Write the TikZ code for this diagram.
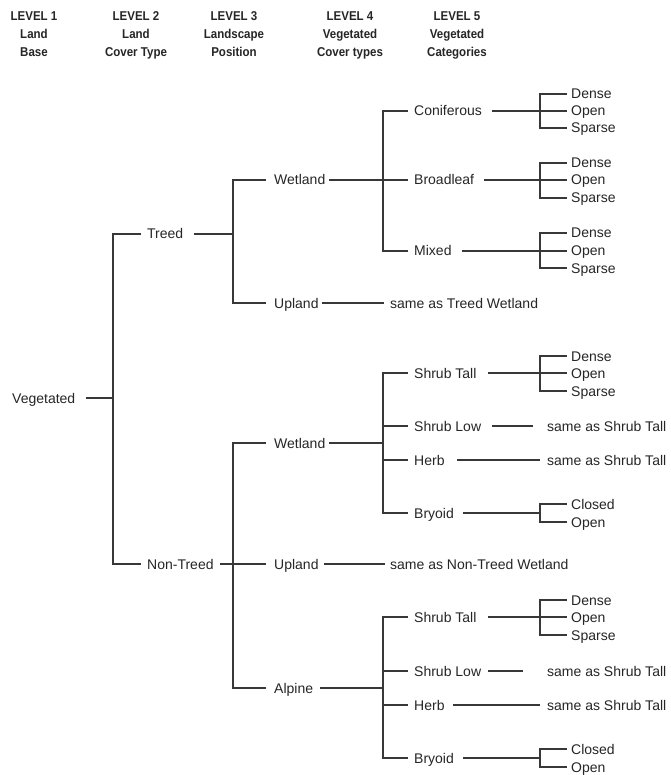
\documentclass[tikz,border=0pt]{standalone}
\usepackage{fontspec}
\setmainfont{Liberation Sans}
\newfontfamily\hdrfont[FakeStretch=0.9]{Liberation Sans}
\definecolor{txt}{HTML}{262626}
\definecolor{ln}{HTML}{383838}
\begin{document}
\begin{tikzpicture}[x=1pt,y=-1pt,
  lbl/.style={anchor=west,inner sep=0pt,text height=10pt,text depth=0pt,font=\fontsize{14}{16}\selectfont,text=txt},
  hdr/.style={anchor=north,inner sep=0pt,align=center,text=txt,font=\hdrfont\bfseries\fontsize{12.8}{17.8}\selectfont},
  conn/.style={draw=ln,line width=1.4pt,line cap=rect,line join=miter}]
\useasboundingbox[fill=white] (0,0) rectangle (670,775);
% headers
\node[hdr] (h1) at (34,11.5) {LEVEL 1\\Land\\Base};
\node[hdr] (h2) at (136,11.5) {LEVEL 2\\Land\\Cover Type};
\node[hdr] (h3) at (234,11.5) {LEVEL 3\\Landscape\\Position};
\node[hdr] (h4) at (350,11.5) {LEVEL 4\\Vegetated\\Cover types};
\node[hdr] (h5) at (457,11.5) {LEVEL 5\\Vegetated\\Categories};
% level 1-2
\node[lbl] (veg) at (12,398) {Vegetated};
\node[lbl] (treed) at (147,234) {Treed};
\node[lbl] (ntreed) at (147,564) {Non-Treed};
\coordinate (j1) at (113,398);
\draw[conn] ([xshift=11pt]veg.east) -- (j1);
\draw[conn] ([xshift=-7pt]treed.west) -| (j1) |- ([xshift=-7pt]ntreed.west);
% treed
\node[lbl] (twet) at (274,180) {Wetland};
\node[lbl] (tup) at (274,303) {Upland};
\coordinate (j2) at (233,234);
\draw[conn] ([xshift=11pt]treed.east) -- (j2);
\draw[conn] ([xshift=-9pt]twet.west) -| (j2) |- ([xshift=-9pt]tup.west);
\node[lbl] (tups) at (390,303) {same as Treed Wetland};
\draw[conn] ([xshift=4pt]tup.east) -- ([xshift=-7pt]tups.west);
% treed wetland
\node[lbl] (conif) at (414,111) {Coniferous};
\node[lbl] (broad) at (414,180) {Broadleaf};
\node[lbl] (mixed) at (414,251) {Mixed};
\coordinate (j3) at (383,180);
\draw[conn] ([xshift=4pt]twet.east) -- (j3);
\draw[conn] ([xshift=-7pt]conif.west) -| (j3) |- ([xshift=-7pt]mixed.west);
\draw[conn] (j3) -- ([xshift=-7pt]broad.west);
% leaves coniferous
\node[lbl] (cd) at (571,94) {Dense};
\node[lbl] (co) at (571,111) {Open};
\node[lbl] (cs) at (571,128) {Sparse};
\coordinate (j4) at (540,111);
\draw[conn] ([xshift=11pt]conif.east) -- ([xshift=-5pt]co.west);
\draw[conn] ([xshift=-5pt]cd.west) -| (j4) |- ([xshift=-5pt]cs.west);
% leaves broadleaf
\node[lbl] (bd) at (571,163) {Dense};
\node[lbl] (bo) at (571,180) {Open};
\node[lbl] (bs) at (571,198) {Sparse};
\coordinate (j5) at (540,180);
\draw[conn] ([xshift=10pt]broad.east) -- ([xshift=-5pt]bo.west);
\draw[conn] ([xshift=-5pt]bd.west) -| (j5) |- ([xshift=-5pt]bs.west);
% leaves mixed
\node[lbl] (md) at (571,233) {Dense};
\node[lbl] (mo) at (571,251) {Open};
\node[lbl] (ms) at (571,268) {Sparse};
\coordinate (j6) at (540,251);
\draw[conn] ([xshift=11pt]mixed.east) -- ([xshift=-5pt]mo.west);
\draw[conn] ([xshift=-5pt]md.west) -| (j6) |- ([xshift=-5pt]ms.west);
% non-treed
\node[lbl] (nwet) at (274,443) {Wetland};
\node[lbl] (nup) at (274,564) {Upland};
\node[lbl] (alp) at (274,688) {Alpine};
\coordinate (j7) at (233,564);
\draw[conn] ([xshift=7pt]ntreed.east) -- ([xshift=-9pt]nup.west);
\draw[conn] ([xshift=-9pt]nwet.west) -| (j7) |- ([xshift=-9pt]alp.west);
\node[lbl] (nups) at (390,564) {same as Non-Treed Wetland};
\draw[conn] ([xshift=6pt]nup.east) -- ([xshift=-6pt]nups.west);
% non-treed wetland
\node[lbl] (nst) at (414,373) {Shrub Tall};
\node[lbl] (nsl) at (414,426) {Shrub Low};
\node[lbl] (nhb) at (414,460) {Herb};
\node[lbl] (nbr) at (414,513) {Bryoid};
\coordinate (j8) at (383,443);
\draw[conn] ([xshift=4pt]nwet.east) -- (j8);
\draw[conn] ([xshift=-7pt]nst.west) -| (j8) |- ([xshift=-7pt]nbr.west);
\draw[conn] ([xshift=-7pt]nsl.west) -- (nsl.west -| j8);
\draw[conn] ([xshift=-7pt]nhb.west) -- (nhb.west -| j8);
\node[lbl] (nstd) at (571,356) {Dense};
\node[lbl] (nsto) at (571,373) {Open};
\node[lbl] (nsts) at (571,391) {Sparse};
\coordinate (j9) at (540,373);
\draw[conn] ([xshift=12pt]nst.east) -- ([xshift=-5pt]nsto.west);
\draw[conn] ([xshift=-5pt]nstd.west) -| (j9) |- ([xshift=-5pt]nsts.west);
\node[lbl] (nsls) at (547,426) {same as Shrub Tall};
\draw[conn] ([xshift=11pt]nsl.east) -- ([xshift=-15pt]nsls.west);
\node[lbl] (nhbs) at (547,460) {same as Shrub Tall};
\draw[conn] ([xshift=13pt]nhb.east) -- ([xshift=-8pt]nhbs.west);
\node[lbl] (nbrc) at (571,504) {Closed};
\node[lbl] (nbro) at (571,522) {Open};
\coordinate (j10) at (540,513);
\draw[conn] ([xshift=10pt]nbr.east) -- (j10);
\draw[conn] ([xshift=-5pt]nbrc.west) -| (j10) |- ([xshift=-5pt]nbro.west);
% alpine
\node[lbl] (ast) at (414,617) {Shrub Tall};
\node[lbl] (asl) at (414,671) {Shrub Low};
\node[lbl] (ahb) at (414,705) {Herb};
\node[lbl] (abr) at (414,758) {Bryoid};
\coordinate (j11) at (383,688);
\draw[conn] ([xshift=7pt]alp.east) -- (j11);
\draw[conn] ([xshift=-7pt]ast.west) -| (j11) |- ([xshift=-7pt]abr.west);
\draw[conn] ([xshift=-7pt]asl.west) -- (asl.west -| j11);
\draw[conn] ([xshift=-7pt]ahb.west) -- (ahb.west -| j11);
\node[lbl] (astd) at (571,600) {Dense};
\node[lbl] (asto) at (571,617) {Open};
\node[lbl] (asts) at (571,635) {Sparse};
\coordinate (j12) at (540,617);
\draw[conn] ([xshift=12pt]ast.east) -- ([xshift=-5pt]asto.west);
\draw[conn] ([xshift=-5pt]astd.west) -| (j12) |- ([xshift=-5pt]asts.west);
\node[lbl] (asls) at (547,671) {same as Shrub Tall};
\draw[conn] ([xshift=7pt]asl.east) -- ([xshift=-25pt]asls.west);
\node[lbl] (ahbs) at (547,705) {same as Shrub Tall};
\draw[conn] ([xshift=9pt]ahb.east) -- ([xshift=-8pt]ahbs.west);
\node[lbl] (abrc) at (571,749) {Closed};
\node[lbl] (abro) at (571,767) {Open};
\coordinate (j13) at (540,758);
\draw[conn] ([xshift=10pt]abr.east) -- (j13);
\draw[conn] ([xshift=-5pt]abrc.west) -| (j13) |- ([xshift=-5pt]abro.west);
\end{tikzpicture}
\end{document}
